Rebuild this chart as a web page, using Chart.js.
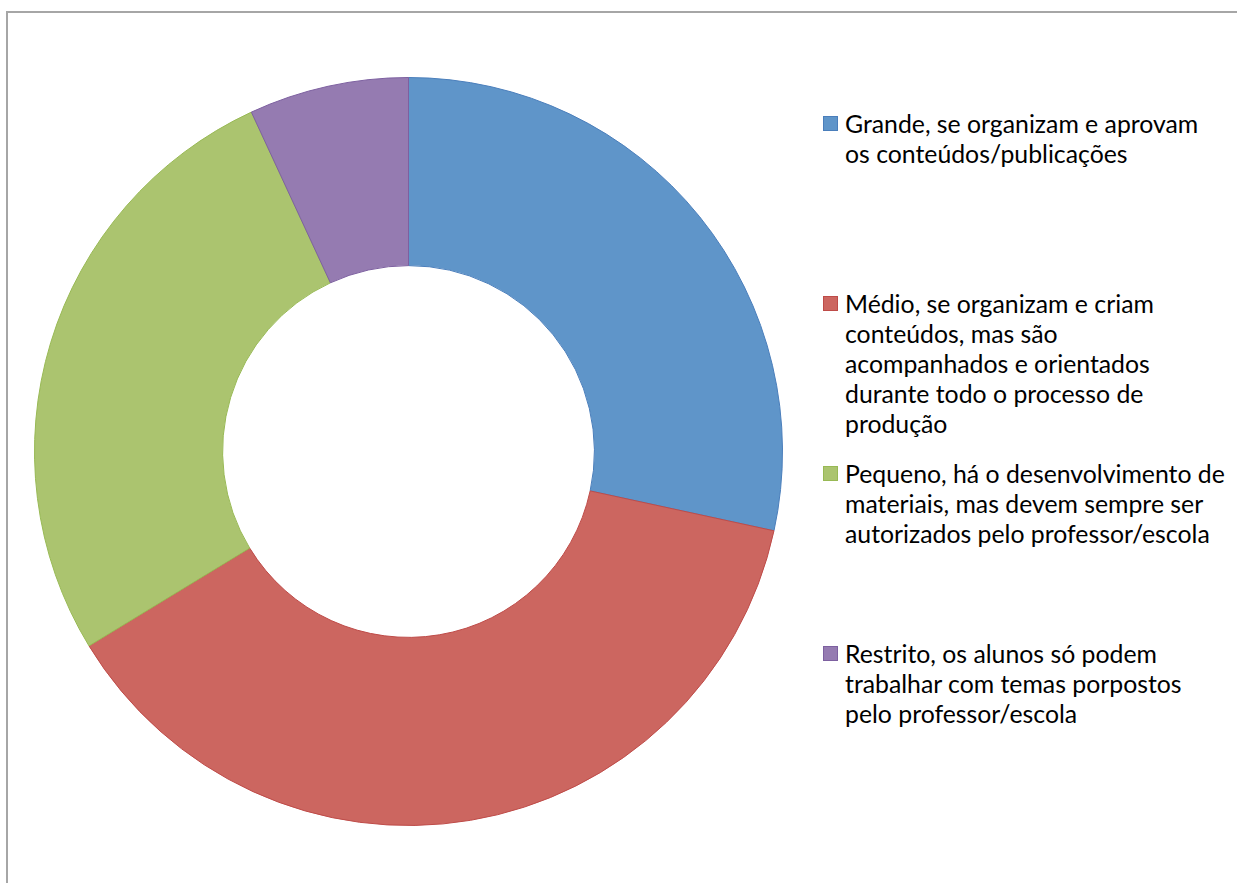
<!DOCTYPE html>
<html>
<head>
<meta charset="utf-8">
<script src="https://cdn.jsdelivr.net/npm/chart.js@4.4.0/dist/chart.umd.min.js"></script>
<style>
  html, body { margin: 0; padding: 0; background: #fff; overflow: hidden; }
  body { width: 1237px; height: 883px; position: relative; }
  #frame { position: absolute; left: 6px; top: 11px; width: 1231px; height: 872px; border-left: 2px solid #a6a6a6; border-top: 2px solid #a6a6a6; box-sizing: border-box; }
  #chart { position: absolute; left: 34px; top: 77px; }
  .entry { position: absolute; left: 845px; font-family: Lato, "Open Sans", sans-serif; font-size: 24.8px; line-height: 30px; color: #000; white-space: nowrap; }
  .entry .box { position: absolute; left: -22px; top: 7px; width: 13px; height: 13px; border: 1px solid; }
</style>
</head>
<body>
<div id="frame"></div>
<canvas id="chart" width="749" height="749"></canvas>
<div id="legend"></div>
<script>
document.addEventListener('DOMContentLoaded', function() {
    // dados
    const labels = [
        ['Grande, se organizam e aprovam', 'os conteúdos/publicações'],
        ['Médio, se organizam e criam', 'conteúdos, mas são', 'acompanhados e orientados', 'durante todo o processo de', 'produção'],
        ['Pequeno, há o desenvolvimento de', 'materiais, mas devem sempre ser', 'autorizados pelo professor/escola'],
        ['Restrito, os alunos só podem', 'trabalhar com temas porpostos', 'pelo professor/escola']
    ];
    const values = [28.4, 37.9, 26.8, 6.9];
    const fillColors = ['#5f95c9', '#cc6660', '#abc46f', '#957bb1'];
    const lineColors = ['#4a7ebb', '#be4b48', '#98b954', '#7d60a0'];
    const legendTops = [109, 289, 459, 639];

    const ctx = document.getElementById('chart');
    new Chart(ctx, {
        type: 'doughnut',
        data: {
            labels: labels.map(l => l.join(' ')),
            datasets: [{
                data: values,
                backgroundColor: fillColors,
                borderColor: lineColors,
                borderWidth: 1
            }]
        },
        options: {
            responsive: false,
            animation: false,
            cutout: '49.7%',
            layout: { padding: 0 },
            plugins: {
                legend: { display: false },
                tooltip: { enabled: false }
            }
        }
    });

    // legenda em HTML
    const legend = document.getElementById('legend');
    labels.forEach((lines, i) => {
        const div = document.createElement('div');
        div.className = 'entry';
        div.style.top = legendTops[i] + 'px';
        const box = document.createElement('span');
        box.className = 'box';
        box.style.background = fillColors[i];
        box.style.borderColor = lineColors[i];
        div.appendChild(box);
        lines.forEach((t, j) => {
            if (j > 0) div.appendChild(document.createElement('br'));
            div.appendChild(document.createTextNode(t));
        });
        legend.appendChild(div);
    });
});
</script>
</body>
</html>
